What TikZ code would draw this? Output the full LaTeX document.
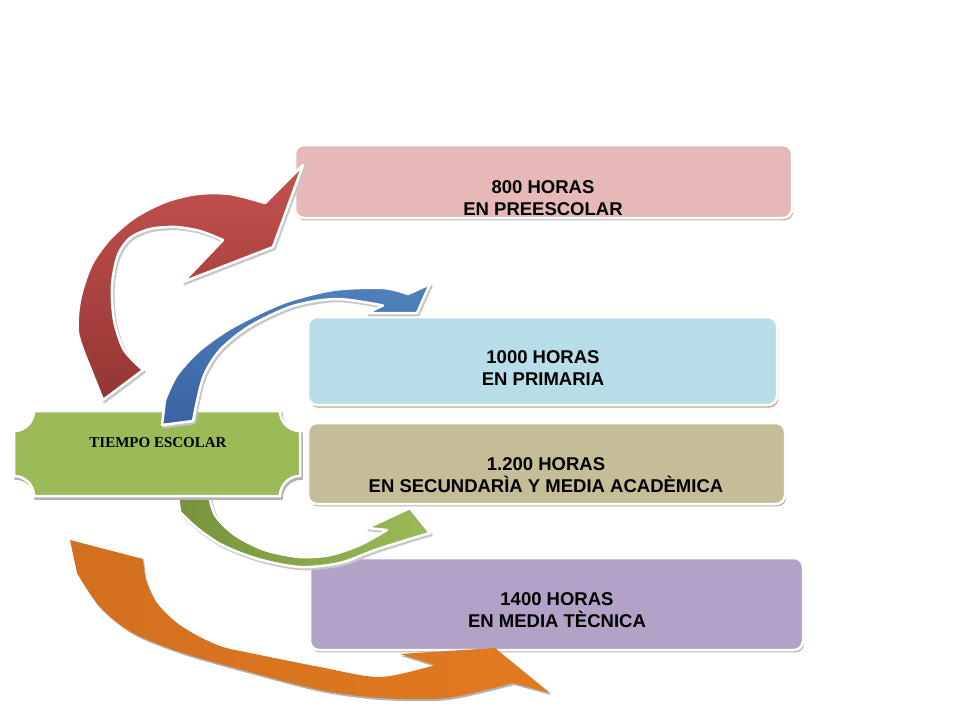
\documentclass[tikz,border=0pt]{standalone}
\usepackage{fontspec}
\setmainfont{Liberation Sans}
\newfontfamily\timesf{Liberation Serif}
\usetikzlibrary{shadows}
\definecolor{pinkc}{HTML}{E6B9B8}
\definecolor{bluec}{HTML}{B7DEE8}
\definecolor{tanc}{HTML}{C4BD97}
\definecolor{purpc}{HTML}{B3A2C7}
\definecolor{plaquec}{HTML}{9BBB59}
\definecolor{redd}{HTML}{943634}
\definecolor{redl}{HTML}{C4514E}
\definecolor{blued}{HTML}{3A62A0}
\definecolor{bluel}{HTML}{4F81BD}
\definecolor{greend}{HTML}{76923C}
\definecolor{greenl}{HTML}{9BBB59}
\definecolor{orad}{HTML}{D2701F}
\definecolor{oral}{HTML}{E27A20}
\definecolor{tanshadow}{HTML}{CFA886}
\newcommand\pathRed{(143,370) -- (103,400) -- plot[smooth] coordinates {(89,365) (78,333) (80,300) (91,266) (109,240) (134,218) (165,202) (197,194) (230,194) (265,203)} -- (303,165) -- (273,247) -- (183,282) -- plot[smooth] coordinates {(223,240) (200,231) (175,227) (150,229) (130,238) (118,255) (112,285) (114,320) (124,350) (143,370)} -- cycle}
\newcommand\pathBlue{(193,421) -- (162,425) -- plot[smooth] coordinates {(165,400) (177,375) (200,350) (233,327) (283,303) (333,290) (383,288) (408,294)} -- (430,284) -- (417,313) -- (367,313) -- plot[smooth] coordinates {(383,305.5) (337,299) (293,306) (250,326) (220,350) (203,378) (193,421)} -- cycle}
\newcommand\pathGreen{(208,490) -- (177,490) -- plot[smooth] coordinates {(180,512) (197,528) (222,545) (258,559) (300,567) (340,563) (375,550) (413,538)} -- (430,533) -- (410,508) -- (367,528) -- plot[smooth] coordinates {(387,530) (360,545) (330,555) (300,557) (265,550) (235,535) (215,515) (208,490)} -- cycle}
\newcommand\pathOrange{(143,559) -- (70,540) -- plot[smooth] coordinates {(77,573) (100,607) (133,633) (183,653) (250,672) (320,690) (380,698) (447,698) (513,683)} -- (550,693) -- (495,648) -- (400,654) -- plot[smooth] coordinates {(435,665) (380,677) (320,667) (250,653) (223,647) (200,637) (177,623) (157,603) (146,580) (143,559)} -- cycle}
\begin{document}
\begin{tikzpicture}[x=1pt,y=-1pt]
\tikzset{
  hbox/.style={rounded corners=9pt, draw=white, line width=2.5pt, inner sep=0pt,
    drop shadow={shadow xshift=1.2pt, shadow yshift=-2.4pt, fill=black!55, opacity=0.55}},
  htext/.style={font=\bfseries\fontsize{18.5}{22}\selectfont, align=center, text=black},
  arrshadow/.style={fill=black!22, draw=black!22, line width=2.5pt, line join=round, xshift=1.5pt, yshift=-2pt},
  arrline/.style={draw=white, line width=2.5pt, line join=round}
}
\useasboundingbox (0,0) rectangle (960,720);
\fill[white] (0,0) rectangle (960,720);
% boxes
\node[hbox, fill=pinkc, minimum width=497pt, minimum height=73pt] (pre) at (543.5,181.5) {};
\node[hbox, fill=bluec, minimum width=469pt, minimum height=88pt,
  drop shadow={shadow xshift=1.2pt, shadow yshift=-2.6pt, fill=tanshadow, opacity=0.9}] (pri) at (542.5,361) {};
\node[hbox, fill=tanc, minimum width=477pt, minimum height=81pt] (sec) at (546.5,463.5) {};
\node[hbox, fill=purpc, minimum width=493pt, minimum height=92pt] (tec) at (556.5,604) {};
\node[htext] (pretext) at (543,198) {800 HORAS\\EN PREESCOLAR};
\node[htext] (pritext) at (543,368) {1000 HORAS\\EN PRIMARIA};
\node[htext] (sectext) at (546,475) {1.200 HORAS\\EN SECUNDARÌA Y MEDIA ACADÈMICA};
\node[htext] (tectext) at (557,610) {1400 HORAS\\EN MEDIA TÈCNICA};
% green arrow (under plaque)
\path[arrshadow] \pathGreen;
\path[arrline, left color=greend, right color=greenl] \pathGreen;
% plaque
\path[fill=black!30, draw=black!30, line width=2.5pt, xshift=1.5pt, yshift=-2.5pt]
  (34,411) -- (280,411) .. controls (280,422) and (289,431) .. (300,431) -- (300,476)
  .. controls (289,476) and (280,485) .. (280,496) -- (34,496)
  .. controls (34,485) and (25,476) .. (14,476) -- (14,431)
  .. controls (25,431) and (34,422) .. (34,411) -- cycle;
\path[fill=plaquec, draw=white, line width=2.5pt]
  (34,411) -- (280,411) .. controls (280,422) and (289,431) .. (300,431) -- (300,476)
  .. controls (289,476) and (280,485) .. (280,496) -- (34,496)
  .. controls (34,485) and (25,476) .. (14,476) -- (14,431)
  .. controls (25,431) and (34,422) .. (34,411) -- cycle;
\node[font=\timesf\bfseries\fontsize{15}{17}\selectfont, text=black] (tiempo) at (158,443) {TIEMPO ESCOLAR};
% red arrow
\path[arrshadow] \pathRed;
\path[arrline, bottom color=redd, top color=redl] \pathRed;
% blue arrow
\path[arrshadow] \pathBlue;
\path[arrline, bottom color=blued, top color=bluel] \pathBlue;
% orange arrow
\path[fill=black!30, xshift=1.2pt, yshift=-2pt] \pathOrange;
\path[left color=orad, right color=oral] \pathOrange;
\end{tikzpicture}
\end{document}
